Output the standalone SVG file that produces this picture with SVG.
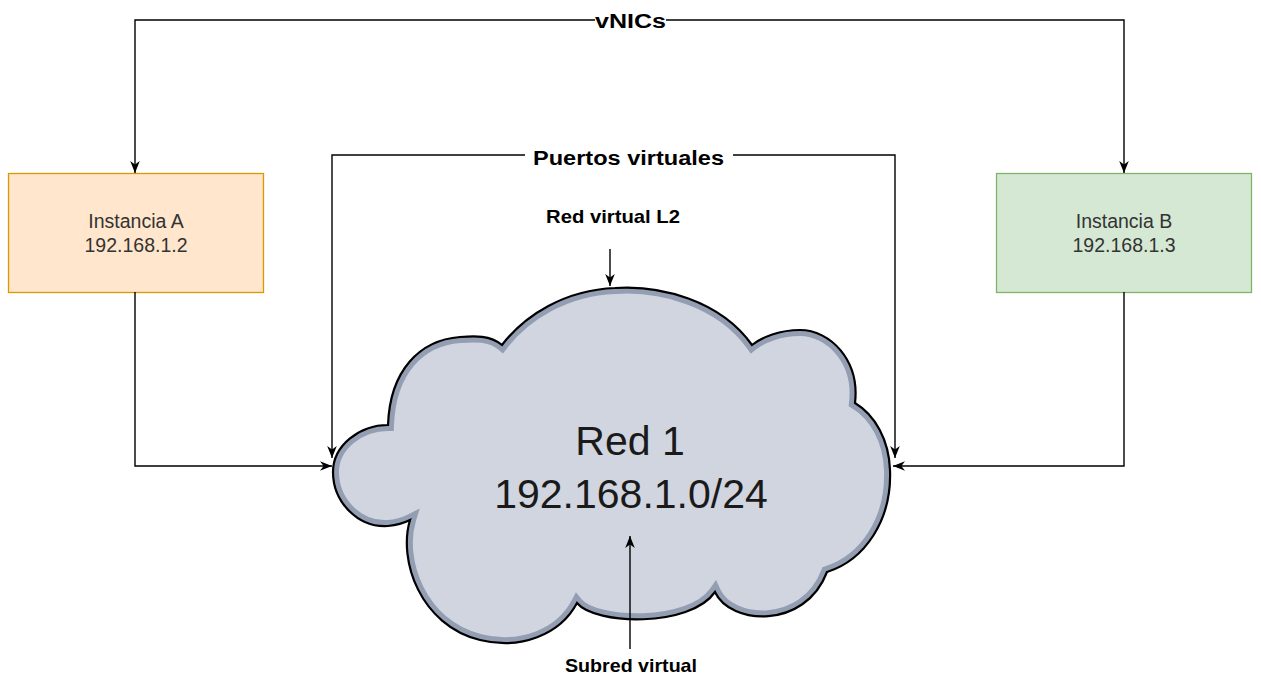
<svg xmlns="http://www.w3.org/2000/svg" width="1261" height="675" viewBox="0 0 1261 675">
  <style>
    .edge { fill: none; stroke: #000; stroke-width: 1.4; }
    .box-text { font-family: "Liberation Sans", Arial, sans-serif; font-size: 19.5px; fill: #333; text-anchor: middle; }
    .lbl { font-family: "Liberation Sans", Arial, sans-serif; font-weight: bold; fill: #000; text-anchor: middle; }
    .cloud-text { font-family: "Liberation Sans", Arial, sans-serif; font-size: 41px; fill: #1a1a1a; text-anchor: middle; }
  </style>
  <defs>
    <marker id="arrow" viewBox="0 0 10 10" refX="10" refY="5" markerWidth="12" markerHeight="12" markerUnits="userSpaceOnUse" orient="auto-start-reverse">
      <path d="M0,1 L10,5 L0,9 L3,5 Z" fill="#000"/>
    </marker>
    <path id="cloudPath" d="M388,425 C360,425 333,445 333,472 C333,502 358,528 388,526 C398,525 406,522 410,520 C398,560 420,625 480,640 C520,650 560,635 577,603 C595,625 690,628 715,592 C730,625 805,630 827,572 C865,560 892,520 890,470 C889,440 875,415 855,403 C860,360 830,330 800,330 C780,330 762,337 752,345 C720,300 660,285 615,288 C565,290 525,315 502,345 C490,335 475,336 460,337 C420,340 390,370 388,425 Z"/>
    <clipPath id="cloudClip">
      <use href="#cloudPath"/>
    </clipPath>
  </defs>
  <rect width="1261" height="675" fill="#fff"/>

  <g id="instancia-a">
    <rect x="8.5" y="173.5" width="255" height="119" fill="#ffe6cc" stroke="#d79b00" stroke-width="1.3"/>
    <text class="box-text" x="136" y="228">Instancia A</text>
    <text class="box-text" x="136" y="252">192.168.1.2</text>
  </g>

  <g id="instancia-b">
    <rect x="996.5" y="173.5" width="255" height="119" fill="#d5e8d4" stroke="#82b366" stroke-width="1.3"/>
    <text class="box-text" x="1124" y="228">Instancia B</text>
    <text class="box-text" x="1124" y="252">192.168.1.3</text>
  </g>

  <g id="red-1">
    <use href="#cloudPath" fill="#d0d5df"/>
    <use href="#cloudPath" fill="none" stroke="#939eb3" stroke-width="12" clip-path="url(#cloudClip)"/>
    <use href="#cloudPath" fill="none" stroke="#000" stroke-width="2.2"/>
    <text class="cloud-text" x="630" y="455">Red 1</text>
    <text class="cloud-text" x="631" y="508">192.168.1.0/24</text>
  </g>

  <g id="connectors">
    <path class="edge" d="M135,173 L135,20 L1124,20 L1124,173" marker-start="url(#arrow)" marker-end="url(#arrow)"/>
    <path class="edge" d="M332,458 L332,155 L895,155 L895,458" marker-start="url(#arrow)" marker-end="url(#arrow)"/>
    <path class="edge" d="M135,292 L135,466 L332,466" marker-end="url(#arrow)"/>
    <path class="edge" d="M1124,292 L1124,466 L893,466" marker-end="url(#arrow)"/>
    <path class="edge" d="M610,249 L610,286" marker-end="url(#arrow)"/>
    <path class="edge" d="M630,649 L630,536" marker-end="url(#arrow)"/>
    <rect x="595" y="8" width="71" height="24" fill="#fff"/>
    <text class="lbl" x="630.5" y="28" font-size="20" textLength="71" lengthAdjust="spacingAndGlyphs">vNICs</text>
    <rect x="525" y="144" width="208" height="24" fill="#fff"/>
    <text class="lbl" x="628.5" y="165" font-size="20" textLength="191" lengthAdjust="spacingAndGlyphs">Puertos virtuales</text>
    <text class="lbl" x="613" y="223" font-size="18.5" textLength="134" lengthAdjust="spacingAndGlyphs">Red virtual L2</text>
    <text class="lbl" x="631" y="672" font-size="18.5" textLength="132" lengthAdjust="spacingAndGlyphs">Subred virtual</text>
  </g>
</svg>
